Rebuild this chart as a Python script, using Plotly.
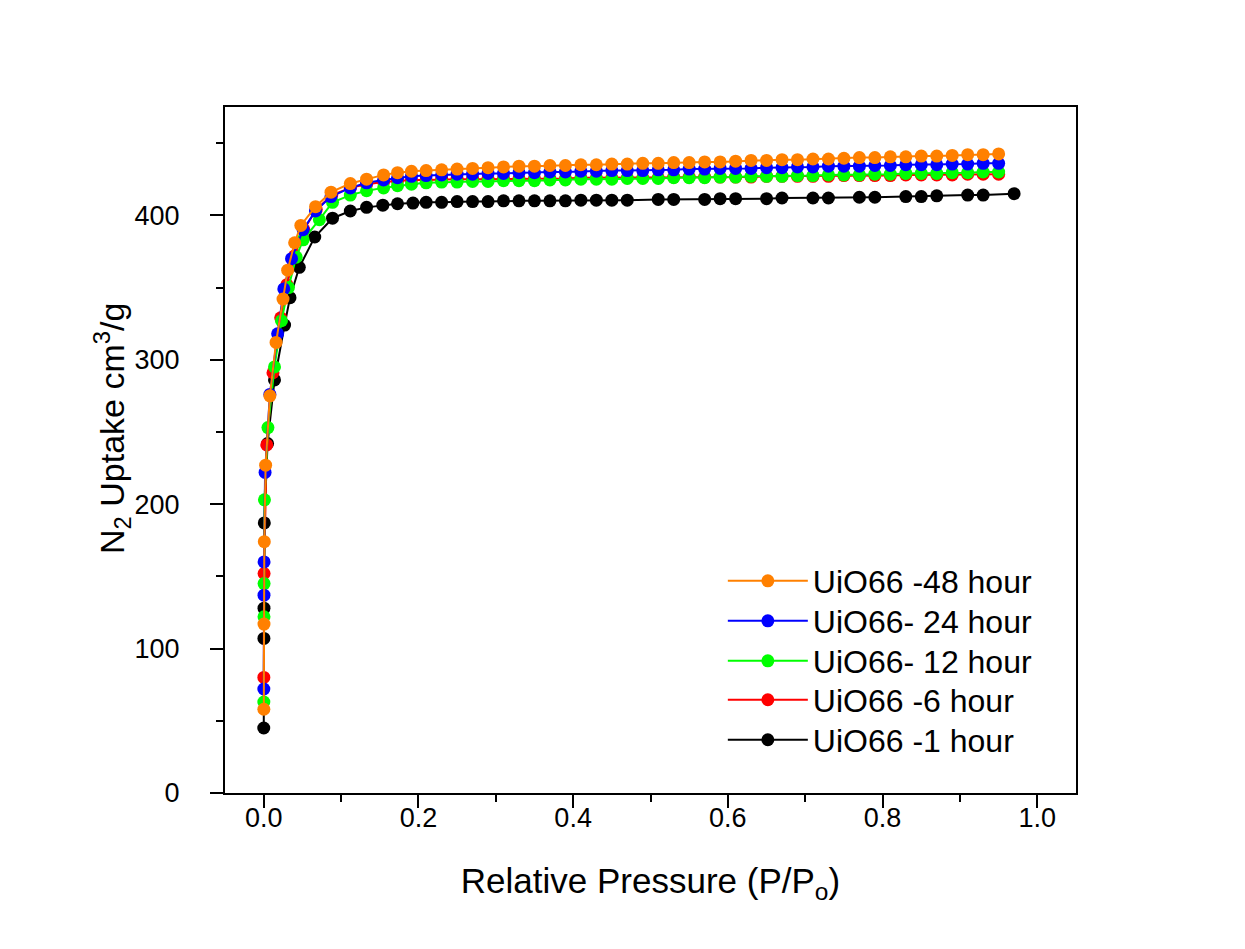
import plotly.graph_objects as go

# ---------------- data ----------------
plateau_p = [0.21, 0.23, 0.25, 0.27, 0.29, 0.31, 0.33, 0.35, 0.37, 0.39,
             0.41, 0.43, 0.45, 0.47, 0.49, 0.51, 0.53, 0.55, 0.57, 0.59,
             0.61, 0.63, 0.65, 0.67, 0.69, 0.71, 0.73, 0.75, 0.77, 0.79,
             0.81, 0.83, 0.85, 0.87, 0.89, 0.91, 0.93, 0.95]

p_48h = [0.0002, 0.0004, 0.0008, 0.0025, 0.008, 0.016, 0.025, 0.031, 0.040,
         0.048, 0.067, 0.087, 0.112, 0.133, 0.155, 0.173, 0.191] + plateau_p
v_48h = [58, 117, 174, 227, 275, 312, 342, 362, 381, 393, 406, 416, 422, 425,
         428, 429.5, 430.5,
         431, 431.5, 432, 432.5, 433, 433.5, 434, 434, 434.5, 434.5,
         435, 435, 435.5, 435.5, 436, 436, 436.5, 436.5, 437, 437,
         437.5, 438, 438, 438.5, 438.5, 439, 439, 439.5, 440, 440,
         440.5, 440.5, 441, 441, 441.5, 442, 442, 442.5]

p_24h = [0.0002, 0.0004, 0.0005, 0.0018, 0.008, 0.018, 0.026, 0.036, 0.051,
         0.067, 0.087, 0.112, 0.133, 0.155, 0.173, 0.191] + plateau_p
v_24h = [72, 137, 160, 222, 276, 318, 349, 370, 390, 403, 413, 419, 422.5,
         424.5, 426, 427,
         427.5, 428, 428.5, 428.5, 429, 429, 429.5, 429.5, 430, 430,
         430.5, 430.5, 431, 431, 431, 431.5, 431.5, 432, 432, 432.5,
         432.5, 432.5, 433, 433, 433.5, 433.5, 434, 434, 434, 434.5,
         434.5, 435, 435, 435, 435.5, 435.5, 436, 436]

p_12h = [0.0002, 0.0004, 0.0005, 0.001, 0.0055, 0.014, 0.023, 0.032, 0.042,
         0.051, 0.072, 0.089, 0.112, 0.133, 0.155, 0.173, 0.191] + plateau_p
v_12h = [63, 122, 145, 203, 253, 295, 327, 350, 371, 383, 397, 409, 414, 417,
         419, 420.5, 421.5,
         422.5, 423, 423, 423.5, 423.5, 424, 424, 424, 424.5, 424.5,
         425, 425, 425, 425.5, 425.5, 425.5, 426, 426, 426, 426.5,
         426.5, 427, 427, 427, 427.5, 427.5, 428, 428, 428, 428.5,
         428.5, 429, 429, 429, 429.5, 429.5, 430, 430]

p_6h = [0.0002, 0.0005, 0.004, 0.012, 0.022, 0.030, 0.040, 0.052, 0.068,
        0.088, 0.112, 0.133, 0.155, 0.173, 0.191] + plateau_p
v_6h = [80, 152, 241, 291, 329, 352, 372, 390, 404, 414, 419, 421.5, 423,
        424, 424.5,
        424.5, 425, 425, 425, 425, 425.5, 425.5, 425.5, 425.5, 425.5,
        426, 426, 426, 426, 426, 426, 426.5, 426.5, 426.5, 426.5,
        426.5, 426.5, 427, 427, 427, 427, 427, 427.5, 427.5, 427.5,
        427.5, 428, 428, 428, 428, 428.5, 428.5, 428.5]

p_1h = [0.0001, 0.0003, 0.0004, 0.0008, 0.005, 0.014, 0.027, 0.034, 0.046,
        0.066, 0.089, 0.112, 0.133, 0.154, 0.173, 0.193,
        0.21, 0.23, 0.25, 0.27, 0.29, 0.31, 0.33, 0.35, 0.37, 0.39,
        0.41, 0.43, 0.45, 0.47, 0.51, 0.53, 0.57, 0.59, 0.61, 0.65,
        0.67, 0.71, 0.73, 0.77, 0.79, 0.83, 0.85, 0.87, 0.91, 0.93, 0.97]
v_1h = [45, 107, 128, 187, 242, 286, 324, 343, 364, 385, 398, 403, 405.5,
        407, 408, 408.5,
        409, 409, 409.5, 409.5, 409.5, 410, 410, 410, 410, 410,
        410.5, 410.5, 410.5, 410.5, 411, 411, 411, 411.5, 411.5, 411.5,
        412, 412, 412, 412.5, 412.5, 413, 413, 413.5, 414, 414, 415]

# name, x, y, colour, legend id, legend row centre (paper y)
series = [  # drawn bottom to top
    ("UiO66 -1 hour", p_1h, v_1h, "#000000", "legend5", 0.0773),
    ("UiO66 -6 hour", p_6h, v_6h, "#FF0000", "legend4", 0.1356),
    ("UiO66- 12 hour", p_12h, v_12h, "#00FF00", "legend3", 0.1924),
    ("UiO66- 24 hour", p_24h, v_24h, "#0000FF", "legend2", 0.2507),
    ("UiO66 -48 hour", p_48h, v_48h, "#FF8000", "legend", 0.309),
]

x_ticks = [0.0, 0.2, 0.4, 0.6, 0.8, 1.0]
x_ticklabels = ["0.0", "0.2", "0.4", "0.6", "0.8", "1.0"]
y_ticks = [0, 100, 200, 300, 400]

# ---------------- figure ----------------
FONT = "Arial, Liberation Sans, sans-serif"
fig = go.Figure()
legend_layout = {}
for name, px, py, col, lg, ly in series:
    fig.add_trace(go.Scatter(
        x=px, y=py, name=name, mode="lines+markers",
        line=dict(color=col, width=2),
        marker=dict(color=col, size=13, symbol="circle"),
        legend=lg,
    ))
    legend_layout[lg] = dict(
        x=0.585, y=ly, xanchor="left", yanchor="middle",
        bgcolor="rgba(0,0,0,0)",
        font=dict(family=FONT, size=32, color="black"),
        itemwidth=80,
    )

axis_common = dict(
    showline=True, linecolor="black", linewidth=2, mirror=True,
    ticks="outside", ticklen=13, tickwidth=2, tickcolor="black",
    showgrid=False, zeroline=False,
    tickfont=dict(family=FONT, size=27, color="black"),
)

fig.update_xaxes(
    range=[-0.05, 1.05], tickvals=x_ticks, ticktext=x_ticklabels,
    minor=dict(dtick=0.1, tick0=0, ticks="outside", ticklen=7,
               tickwidth=2, tickcolor="black"),
    ticklabelstandoff=-13,
    title=dict(text="Relative Pressure (P/P<sub>o</sub>)",
               font=dict(family=FONT, size=35, color="black"), standoff=36),
    **axis_common,
)
fig.update_yaxes(
    range=[0, 475], tickvals=y_ticks,
    minor=dict(dtick=50, tick0=0, ticks="outside", ticklen=7,
               tickwidth=2, tickcolor="black"),
    ticklabelstandoff=25,
    **axis_common,
)

fig.add_annotation(
    text="N<sub>2</sub> Uptake cm<sup>3</sup>/g",
    xref="paper", yref="paper", x=-0.1328, y=0.532,
    xanchor="center", yanchor="middle", textangle=-90, showarrow=False,
    font=dict(family=FONT, size=34, color="black"),
)

fig.update_layout(
    width=1237, height=941,
    paper_bgcolor="white", plot_bgcolor="white",
    margin=dict(l=217, r=169, t=99, b=156, autoexpand=False),
    showlegend=True,
    **legend_layout,
)

fig.write_html("out.html")
